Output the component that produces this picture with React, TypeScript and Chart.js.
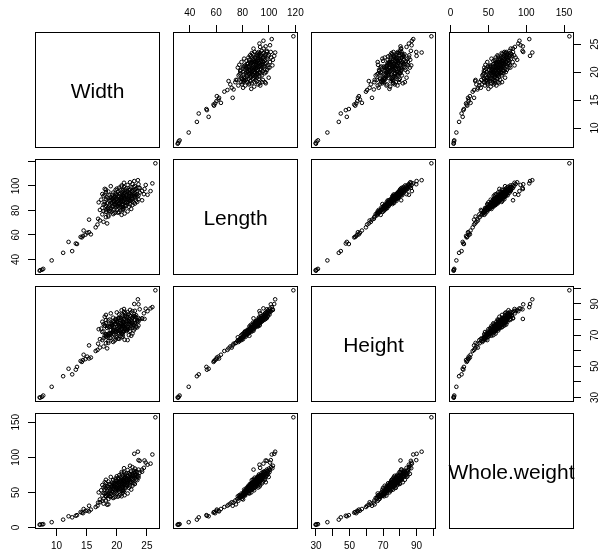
import React, { useEffect, useRef } from 'react';
import { Chart, registerables } from 'chart.js';

Chart.register(...registerables);

// ---------------- data (one observation per index) ----------------
const variableNames = ['Width', 'Length', 'Height', 'Whole.weight'];

const width = [
  7.2, 7.6, 7.8, 7.3, 9.2, 11.1, 12.6, 13.2, 12.0, 13.4, 14.2, 14.0, 14.4, 15.7, 15.1, 14.5, 15.4, 14.8, 16.5, 18.4, 17.8, 15.4, 16.9, 16.8, 18.2, 17.2, 18.6,
  18.6, 21.3, 20.2, 17.6, 19.0, 17.8, 19.4, 20.6, 18.2, 17.2, 20.8, 21.8,
  19.6, 18.4, 20.4, 21.0, 19.2, 20.0, 18.8, 22.4, 17.6, 22.0, 21.6, 19.0, 19.6, 18.2, 19.8, 20.8, 21.2,
  20.2, 21.4, 19.4, 20.6, 22.2, 19.0, 20.4, 21.8, 18.4, 22.8, 18.0, 23.2, 17.4, 19.8, 21.0, 20.0, 21.0, 20.8, 18.6, 19.2, 19.6, 22.0, 23.0, 23.6, 17.0, 20.2,
  20.6, 21.6, 19.6, 22.4, 20.0, 21.2, 23.0, 19.8, 21.8, 18.4, 23.4, 17.8, 18.8, 22.8, 20.4, 22.2, 18.2, 22.0, 21.0, 19.2, 21.4, 20.2, 19.4, 21.6, 17.6, 23.8, 20.8, 18.0,
  22.6, 21.0, 19.8, 23.2, 21.6, 20.4, 22.8, 19.0, 18.6, 24.2, 18.2, 20.0, 23.6, 21.2, 22.0, 18.0, 20.8,
  25.9, 25.6, 25.1, 24.5, 24.2, 23.8, 23.6, 23.5, 22.9, 26.4, 24.8, 22.2, 24.6,
  20.6, 19.8, 20.8, 19.0, 22.6, 21.8, 20.0, 21.0, 19.4, 20.0, 18.6, 21.6, 22.8, 22.6, 20.6, 19.8, 17.8, 23.4, 18.2, 20.4, 23.4, 22.4, 23.0, 21.4, 21.0, 20.4, 19.4, 21.2, 19.8, 21.4, 18.8, 21.4, 18.0, 22.6, 23.2, 22.8, 20.8, 21.8, 22.6, 21.2,
  19.8, 20.4, 20.0, 20.8, 19.6, 21.2, 20.6, 21.4, 20.8, 21.8, 21.2, 22.0, 21.6, 22.4, 22.0, 19.4, 19.0, 18.6, 18.2, 18.8,
  21.6, 21.8, 21.0, 22.6, 23.0, 23.6, 22.6, 23.0, 18.8, 19.2, 19.8, 20.6, 20.8, 21.8, 22.2, 20.2, 19.0, 22.4, 19.6, 21.0,
  21.2, 22.2, 22.6, 21.8, 22.6, 23.4, 20.8, 21.0, 20.4, 19.6,
];

const length = [
  30.8, 31.6, 32.3, 31.2, 39.2, 45.4, 46.8, 53.0, 54.3, 52.6, 58.0, 58.4, 59.2, 60.5, 61.8, 63.6, 62.2, 60.2, 66.2, 69.4, 70.7, 72.5, 73.2, 68.5, 74.5, 71.8, 75.0,
  76.0, 77.5, 78.2, 76.8, 79.0, 79.6, 77.0, 80.0, 78.8, 80.4, 76.4, 79.2,
  81.0, 81.6, 82.2, 82.8, 83.4, 84.0, 84.6, 81.2, 82.0, 83.0, 84.2, 80.8, 85.0, 83.8, 82.4, 84.8, 81.8,
  85.4, 86.0, 86.6, 87.2, 87.8, 88.4, 89.0, 89.6, 85.8, 86.4, 87.0, 88.0, 88.8, 89.4, 85.2, 86.8, 87.6, 88.2, 89.8, 86.2, 87.4, 88.6, 85.6, 89.2, 86.6, 87.9,
  90.2, 90.8, 91.4, 92.0, 92.6, 93.2, 93.8, 94.4, 95.0, 90.6, 91.2, 91.8, 92.4, 93.0, 93.6, 94.2, 94.8, 90.4, 91.6, 92.8, 94.0, 95.2, 90.0, 92.2, 93.4, 94.6, 91.0, 92.9,
  95.6, 96.2, 96.8, 97.4, 98.0, 98.6, 99.2, 99.8, 95.4, 96.0, 97.0, 97.8, 98.4, 99.0, 96.6, 97.6, 100.4,
  102.1, 95.8, 92.8, 93.3, 88.3, 98.4, 101.4, 104.7, 104.0, 118.5, 100.8, 103.0, 97.5,
  83.2, 85.8, 88.6, 90.8, 84.4, 87.2, 89.6, 92.0, 94.6, 80.6, 82.6, 86.2, 91.4, 93.6, 96.4, 78.4, 84.8, 87.0, 89.0, 91.6, 95.8, 98.8, 100.0, 97.2, 81.4, 86.0, 88.2, 90.2, 93.0, 95.4, 79.8, 83.6, 85.2, 89.8, 92.4, 96.6, 99.4, 100.8, 101.6, 102.6,
  84.6, 85.2, 86.4, 87.0, 87.6, 88.0, 88.8, 89.2, 90.0, 90.6, 91.2, 91.8, 92.6, 93.2, 94.0, 83.0, 82.2, 81.0, 80.2, 79.4,
  86.8, 85.6, 84.0, 89.6, 90.8, 92.2, 95.4, 96.8, 87.8, 89.4, 91.0, 93.8, 95.0, 96.0, 97.2, 83.6, 86.0, 88.4, 90.4, 92.8,
  94.4, 85.0, 87.4, 89.0, 91.6, 93.4, 82.8, 80.6, 78.6, 77.8,
];

const height = [
  30.0, 30.4, 31.2, 29.8, 36.8, 43.6, 44.8, 47.8, 48.4, 49.6, 52.8, 53.4, 54.0, 55.6, 56.2, 57.4, 55.0, 54.6, 59.8, 61.5, 62.7, 63.4, 64.5, 60.5, 64.8, 62.0, 65.0,
  66.2, 67.0, 67.8, 66.8, 68.2, 68.0, 65.6, 69.2, 69.8, 67.4, 68.6, 66.8,
  70.2, 69.8, 71.0, 70.4, 71.8, 72.6, 71.4, 69.6, 72.0, 70.0, 73.2, 71.2, 73.8, 70.6, 69.0, 71.6, 72.4,
  72.8, 74.0, 73.4, 75.2, 74.4, 75.8, 76.4, 75.0, 74.6, 73.0, 76.0, 75.4, 74.2, 77.2, 75.6, 72.2, 76.8, 73.6, 75.4, 76.6, 74.8, 77.0, 74.2, 76.2, 73.8, 78.0,
  77.8, 76.6, 78.6, 77.4, 79.2, 78.0, 79.8, 80.4, 79.0, 76.0, 78.2, 77.0, 80.0, 76.8, 81.0, 78.4, 79.6, 79.0, 75.8, 77.6, 82.0, 80.8, 78.8, 80.6, 78.6, 80.2, 79.4, 76.2,
  81.4, 82.4, 80.0, 82.8, 81.6, 83.4, 82.2, 84.0, 79.4, 80.6, 83.0, 84.6, 81.0, 85.0, 83.6, 81.8, 83.2,
  88.0, 87.2, 85.4, 84.0, 80.8, 86.6, 89.8, 93.0, 90.0, 98.8, 87.0, 86.2, 80.4,
  72.2, 73.2, 75.6, 77.2, 71.0, 74.0, 78.4, 78.8, 81.2, 68.6, 70.8, 72.6, 76.4, 80.8, 81.0, 67.2, 72.4, 75.0, 77.6, 75.6, 79.8, 84.4, 85.6, 84.2, 71.6, 75.0, 72.8, 76.8, 79.4, 82.6, 70.6, 73.4, 69.6, 77.8, 81.4, 82.0, 86.0, 84.8, 85.4, 86.8,
  72.0, 73.0, 73.8, 74.6, 75.0, 75.6, 76.0, 76.4, 77.2, 77.6, 78.0, 78.6, 79.0, 79.6, 80.0, 71.0, 70.6, 69.4, 68.8, 68.2,
  74.2, 73.6, 72.4, 76.8, 77.8, 78.8, 81.2, 82.2, 75.2, 76.2, 77.4, 79.8, 80.6, 81.6, 82.4, 71.6, 73.2, 75.8, 77.0, 78.4,
  80.2, 72.8, 74.8, 75.4, 78.2, 79.2, 70.8, 69.0, 67.6, 66.4,
];

const wholeWeight = [
  4.0, 4.4, 4.8, 4.2, 7.6, 11.2, 14.5, 16.8, 16.0, 17.6, 21.2, 22.0, 20.4, 25.5, 24.0, 26.4, 23.0, 23.8, 29.2, 32.5, 34.0, 31.0, 35.5, 31.0, 38.5, 36.0, 33.0,
  40.5, 46.0, 44.0, 38.0, 43.5, 41.0, 42.0, 47.0, 45.0, 40.0, 44.5, 48.5,
  49.0, 46.5, 51.0, 53.5, 50.5, 55.0, 52.0, 54.0, 45.5, 56.5, 58.0, 47.8, 54.5, 49.5, 50.0, 57.5, 52.5,
  56.0, 60.5, 55.5, 61.0, 64.5, 58.0, 62.5, 66.0, 52.5, 63.0, 54.0, 68.5, 53.0, 61.5, 59.0, 57.0, 63.5, 60.0, 57.5, 58.5, 59.5, 67.0, 62.0, 71.0, 50.0, 64.0,
  65.0, 68.0, 63.5, 71.5, 66.5, 70.0, 74.5, 68.0, 73.0, 59.0, 72.0, 57.0, 62.0, 73.5, 69.0, 75.0, 63.0, 67.5, 66.0, 64.0, 72.5, 70.5, 62.5, 70.5, 60.5, 78.0, 67.0, 58.5,
  76.5, 74.0, 70.0, 80.5, 77.0, 74.5, 81.0, 72.0, 65.5, 79.5, 68.0, 73.0, 82.5, 78.5, 77.5, 64.5, 79.0,
  104.0, 91.0, 89.5, 85.0, 82.5, 95.0, 96.0, 108.0, 105.0, 157.0, 92.5, 88.0, 95.5,
  54.5, 56.5, 62.0, 61.0, 59.5, 63.0, 63.5, 68.5, 67.5, 48.0, 48.5, 60.0, 71.0, 73.5, 71.5, 44.0, 49.0, 67.5, 56.5, 64.5, 79.0, 80.0, 84.0, 75.5, 51.5, 58.0, 57.0, 66.5, 66.0, 72.0, 44.5, 56.0, 48.5, 69.5, 75.5, 78.0, 76.5, 82.0, 86.0, 84.5,
  53.0, 55.5, 57.0, 59.5, 58.0, 62.0, 61.0, 64.0, 63.0, 66.5, 65.5, 68.5, 68.0, 71.0, 70.5, 50.5, 48.5, 46.5, 44.5, 45.0,
  61.5, 60.0, 56.0, 67.0, 70.0, 73.5, 75.0, 78.5, 55.0, 58.5, 62.0, 67.0, 69.5, 73.5, 76.0, 53.5, 53.0, 65.0, 61.5, 67.5,
  70.0, 58.5, 63.5, 64.5, 69.5, 74.0, 52.0, 49.5, 45.5, 43.0,
];

// tick values and labels for each variable
const widthTicks = [10, 15, 20, 25];
const widthTickLabels = ['10', '15', '20', '25'];
const lengthTicks = [40, 60, 80, 100, 120];
const lengthTopTickLabels = ['40', '60', '80', '100', '120'];
const lengthLeftTickLabels = ['40', '60', '80', '100', ''];
const heightTicks = [30, 40, 50, 60, 70, 80, 90, 100];
const heightTickLabels = ['30', '', '50', '', '70', '', '90', ''];
const weightTicks = [0, 50, 100, 150];
const weightTickLabels = ['0', '50', '100', '150'];

// ---------------- layout ----------------
const columns = [width, length, height, wholeWeight];
const N = Math.min(width.length, length.length, height.length, wholeWeight.length);

const colLeft = [35, 173, 311, 449];
const rowTop = [32, 159, 286, 413];
const PW = 125;
const PH = 116;
const M = 40;
const FONT = '"Liberation Sans", Arial, Helvetica, sans-serif';

function rangeOf(v: number[]): [number, number] {
  const vals = v.slice(0, N);
  const lo = Math.min(...vals);
  const hi = Math.max(...vals);
  const d = (hi - lo) * 0.04;
  return [lo - d, hi + d];
}
const ranges = columns.map(rangeOf);

function ticksFor(varIdx: number, position: string): { values: number[]; labels: string[] } {
  if (varIdx === 0) return { values: widthTicks, labels: widthTickLabels };
  if (varIdx === 1) return { values: lengthTicks, labels: position === 'left' ? lengthLeftTickLabels : lengthTopTickLabels };
  if (varIdx === 2) return { values: heightTicks, labels: heightTickLabels };
  return { values: weightTicks, labels: weightTickLabels };
}

const tickPadding: Record<string, number> = { top: 6, bottom: 4, left: 3, right: 9 };

function axisOptions(varIdx: number, position: string, show: boolean): any {
  const [min, max] = ranges[varIdx];
  const base: any = { type: 'linear', min, max, display: show, position };
  if (!show) return base;
  const { values, labels } = ticksFor(varIdx, position);
  const vertical = position === 'left' || position === 'right';
  return {
    ...base,
    afterBuildTicks: (s: any) => {
      s.ticks = values.map((v) => ({ value: v }));
    },
    afterFit: (s: any) => {
      if (vertical) s.width = M;
      else s.height = M;
      s.paddingLeft = 0;
      s.paddingRight = 0;
      s.paddingTop = 0;
      s.paddingBottom = 0;
    },
    grid: { display: true, drawOnChartArea: false, drawTicks: true, tickLength: 7, color: '#000', lineWidth: 1 },
    border: { display: false },
    ticks: {
      autoSkip: false,
      color: '#000',
      font: { family: FONT, size: 10 },
      padding: tickPadding[position],
      minRotation: vertical ? 90 : 0,
      maxRotation: vertical ? 90 : 0,
      crossAlign: vertical ? 'center' : 'near',
      callback: (_v: any, i: number) => labels[i] ?? '',
    },
  };
}

const framePlugin = {
  id: 'frame',
  afterDraw(chart: any, _args: any, opts: any) {
    const { ctx, chartArea: a } = chart;
    ctx.save();
    ctx.strokeStyle = '#000';
    ctx.lineWidth = 1;
    ctx.strokeRect(
      Math.round(a.left) + 0.5,
      Math.round(a.top) + 0.5,
      Math.round(a.right - a.left) - 1,
      Math.round(a.bottom - a.top) - 1
    );
    if (opts && opts.label) {
      ctx.fillStyle = '#000';
      ctx.font = `21px ${FONT}`;
      ctx.textAlign = 'center';
      ctx.textBaseline = 'alphabetic';
      ctx.fillText(opts.label, (a.left + a.right) / 2, (a.top + a.bottom) / 2 + 7.5);
    }
    ctx.restore();
  },
};

function Panel({ r, c }: { r: number; c: number }) {
  const ref = useRef<HTMLCanvasElement>(null);
  useEffect(() => {
    const diag = r === c;
    const showTop = r === 0 && c % 2 === 1 && !diag;
    const showBottom = r === 3 && c % 2 === 0 && !diag;
    const showRight = c === 3 && r % 2 === 0 && !diag;
    const showLeft = c === 0 && r % 2 === 1 && !diag;
    const xs = columns[c];
    const ys = columns[r];
    const pts = diag ? [] : Array.from({ length: N }, (_, i) => ({ x: xs[i], y: ys[i] }));
    const chart = new Chart(ref.current as HTMLCanvasElement, {
      type: 'scatter',
      data: {
        datasets: [
          {
            data: pts,
            pointRadius: 1.8,
            pointBorderWidth: 1,
            pointBorderColor: '#000',
            pointBackgroundColor: 'rgba(0,0,0,0)',
            showLine: false,
            clip: false,
          } as any,
        ],
      },
      options: {
        animation: false,
        responsive: false,
        devicePixelRatio: 1,
        events: [],
        layout: {
          padding: {
            left: showLeft ? 0 : M,
            right: showRight ? 0 : M,
            top: showTop ? 0 : M,
            bottom: showBottom ? 0 : M,
          },
        },
        scales: {
          x: axisOptions(c, showTop ? 'top' : 'bottom', showTop || showBottom),
          y: axisOptions(r, showRight ? 'right' : 'left', showLeft || showRight),
        },
        plugins: {
          legend: { display: false },
          tooltip: { enabled: false },
          frame: { label: diag ? variableNames[r] : '' },
        } as any,
      },
      plugins: [framePlugin],
    });
    return () => chart.destroy();
  }, [r, c]);
  return (
    <canvas
      ref={ref}
      width={PW + 2 * M}
      height={PH + 2 * M}
      style={{
        position: 'absolute',
        left: colLeft[c] - M,
        top: rowTop[r] - M,
        width: PW + 2 * M,
        height: PH + 2 * M,
      }}
    />
  );
}

export default function App() {
  const cells: JSX.Element[] = [];
  for (let r = 0; r < 4; r++) {
    for (let c = 0; c < 4; c++) {
      cells.push(<Panel key={`${r}-${c}`} r={r} c={c} />);
    }
  }
  return (
    <div style={{ position: 'absolute', left: 0, top: 0, width: 600, height: 557, background: '#fff', overflow: 'hidden' }}>
      {cells}
    </div>
  );
}
